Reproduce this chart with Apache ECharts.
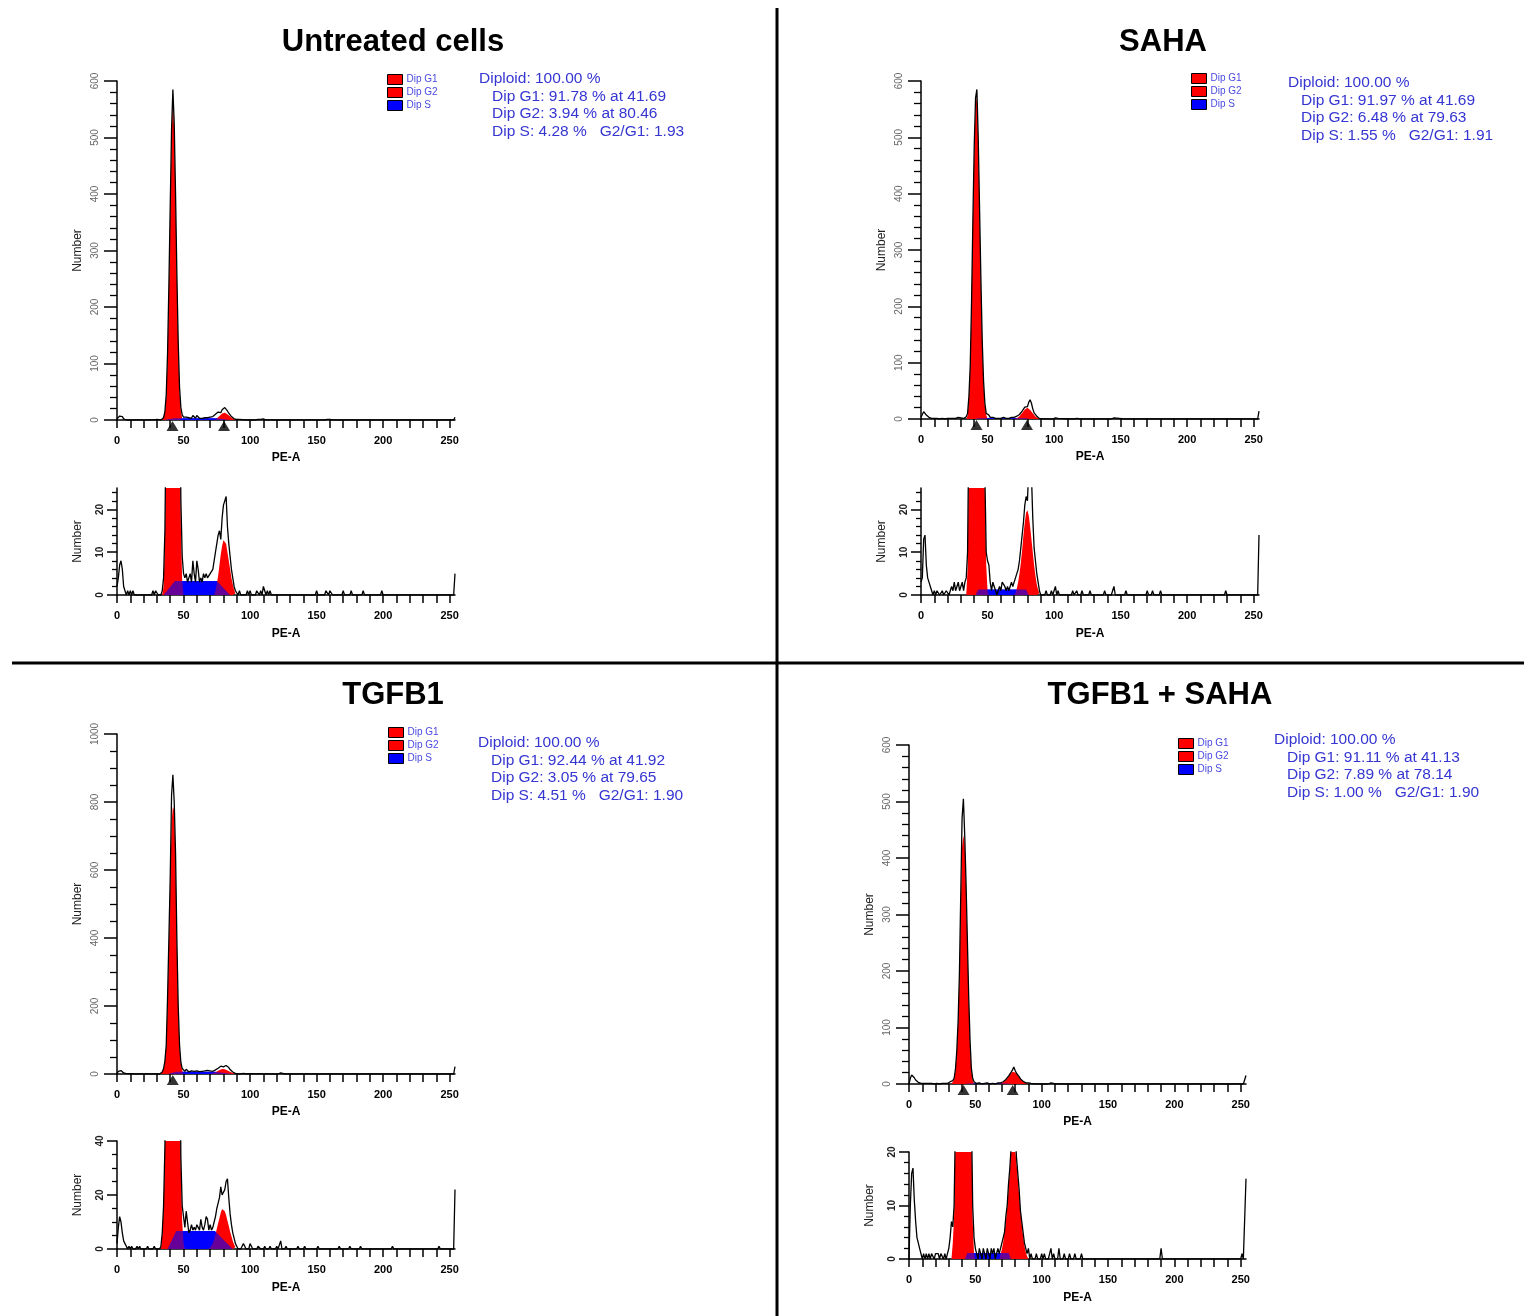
<!DOCTYPE html>
<html>
<head>
<meta charset="utf-8">
<script src="https://cdn.jsdelivr.net/npm/echarts@6/dist/echarts.min.js"></script>
<style>
html, body { margin: 0; padding: 0; background: #fff; }
#chart { width: 1524px; height: 1316px; }
</style>
</head>
<body>
<div id="chart"></div>
<script>
// ---- data: [channel, count] ----

// Untreated cells
const rawUntreated = [[0,2],[1,4],[2,7],[3,8],[4,6],[5,2],[6,1],[7,0],[8,1],[9,0],[10,1],[11,0],[12,1],[13,0],[26,0],[27,1],[28,0],[29,1],[30,1],[31,0],[33,0],[34,1],[35,4],[36,15],[37,45],[38,118],[39,240],[40,380],[41,515],[42,585],[43,525],[44,400],[45,258],[46,138],[47,58],[48,22],[49,9],[50,5],[51,4],[52,5],[53,3],[54,4],[55,5],[56,3],[57,8],[58,5],[59,3],[60,8],[61,6],[62,3],[63,4],[64,3],[65,5],[66,4],[67,5],[68,4],[69,4],[70,5],[71,5],[72,6],[73,8],[74,10],[75,12],[76,14],[77,15],[78,13],[79,18],[80,21],[81,22],[82,23],[83,16],[84,12],[85,9],[86,6],[87,4],[88,2],[89,1],[90,1],[91,0],[92,1],[93,0],[97,0],[98,1],[99,0],[100,1],[101,0],[104,0],[105,1],[106,1],[107,0],[108,1],[109,0],[110,2],[111,1],[112,0],[113,1],[114,0],[115,1],[116,0],[149,0],[150,1],[151,0],[156,0],[157,1],[158,1],[159,0],[160,1],[161,1],[162,0],[169,0],[170,1],[171,0],[175,0],[176,1],[177,0],[184,0],[185,1],[186,0],[198,0],[199,1],[200,0],[253,0],[254,5]];
const g1Untreated = [[34,0],[35,2],[36,12],[37,40],[38,110],[39,230],[40,370],[41,500],[42,568],[43,510],[44,390],[45,250],[46,130],[47,50],[48,16],[49,3],[50,0]];
const g2Untreated = [[73,0],[74,1],[75,2.5],[76,4.5],[77,7],[78,9.5],[79,11.5],[80,12.8],[81,13],[82,12],[83,10],[84,8],[85,6],[86,4],[87,2.5],[88,1.2],[89,0.4],[90,0]];
const sUntreated = [[35,0],[43.5,3.3],[75,3.3],[85,0]];
const peaksUntreated = [41.69, 80.46];
const statsUntreated = ['Diploid: 100.00 %', 'Dip G1: 91.78 % at 41.69', 'Dip G2: 3.94 % at 80.46', 'Dip S: 4.28 %   G2/G1: 1.93'];

// SAHA
const rawSaha = [[0,3],[1,4],[2,13],[3,14],[4,7],[5,4],[6,3],[7,2],[8,1],[9,0],[10,1],[11,0],[12,1],[13,1],[14,0],[15,0],[16,1],[17,0],[18,0],[19,1],[20,1],[21,0],[22,1],[23,2],[24,1],[25,3],[26,1],[27,2],[28,3],[29,1],[30,2],[31,3],[32,1],[33,3],[34,4],[35,10],[36,40],[37,95],[38,210],[39,355],[40,485],[41,570],[42,585],[43,500],[44,375],[45,250],[46,140],[47,68],[48,28],[49,10],[50,8],[51,7],[52,3],[53,1],[54,3],[55,2],[56,1],[57,0],[58,1],[59,2],[60,1],[61,3],[62,3],[63,2],[64,1],[65,2],[66,1],[67,2],[68,3],[69,2],[70,3],[71,4],[72,5],[73,6],[74,8],[75,11],[76,14],[77,17],[78,21],[79,23],[80,22],[81,30],[82,34],[83,28],[84,18],[85,11],[86,8],[87,5],[88,3],[89,1],[90,0],[93,0],[94,1],[95,0],[97,0],[98,1],[99,0],[100,1],[101,2],[102,0],[103,1],[104,0],[113,0],[114,1],[115,0],[116,0],[117,1],[118,0],[120,0],[121,1],[122,0],[126,0],[127,1],[128,0],[137,0],[138,1],[139,0],[143,0],[144,1],[145,2],[146,0],[153,0],[154,1],[155,0],[169,0],[170,1],[171,0],[173,0],[174,1],[175,0],[179,0],[180,1],[181,0],[228,0],[229,1],[230,0],[253,0],[254,14]];
const g1Saha = [[34,0],[35,6],[36,35],[37,90],[38,200],[39,345],[40,470],[41,555],[42,572],[43,490],[44,365],[45,240],[46,135],[47,62],[48,24],[49,7],[50,1],[51,0]];
const g2Saha = [[70,0],[71,0.5],[72,1.5],[73,3],[74,5],[75,7.5],[76,10.5],[77,14],[78,17],[79,19.3],[80,19.8],[81,18.5],[82,16],[83,13],[84,10],[85,7],[86,4.5],[87,2.5],[88,1.2],[89,0.4],[90,0]];
const sSaha = [[41,0],[43,1.3],[79,1.3],[81,0]];
const peaksSaha = [41.69, 79.63];
const statsSaha = ['Diploid: 100.00 %', 'Dip G1: 91.97 % at 41.69', 'Dip G2: 6.48 % at 79.63', 'Dip S: 1.55 %   G2/G1: 1.91'];

// TGFB1
const rawTgfb = [[0,2],[1,8],[2,12],[3,10],[4,6],[5,3],[6,2],[7,1],[8,0],[9,1],[10,0],[11,1],[12,0],[14,0],[15,1],[16,0],[17,1],[18,0],[22,0],[23,1],[24,0],[27,0],[28,1],[29,0],[32,0],[33,1],[34,6],[35,16],[36,38],[37,85],[38,225],[39,400],[40,580],[41,820],[42,880],[43,800],[44,650],[45,395],[46,200],[47,85],[48,34],[49,16],[50,12],[51,8],[52,14],[53,10],[54,6],[55,7],[56,9],[57,7],[58,8],[59,7],[60,9],[61,8],[62,7],[63,11],[64,8],[65,7],[66,9],[67,12],[68,11],[69,7],[70,9],[71,7],[72,8],[73,10],[74,12],[75,15],[76,17],[77,19],[78,23],[79,20],[80,21],[81,22],[82,25],[83,26],[84,19],[85,13],[86,9],[87,6],[88,4],[89,2],[90,1],[91,0],[93,0],[94,1],[95,2],[96,1],[97,0],[99,0],[100,2],[101,1],[102,0],[105,0],[106,1],[107,1],[108,0],[110,0],[111,1],[112,0],[114,0],[115,1],[116,0],[119,0],[120,1],[121,0],[122,0],[123,3],[124,0],[126,0],[127,1],[128,0],[135,0],[136,1],[137,0],[140,0],[141,1],[142,0],[150,0],[151,1],[152,0],[166,0],[167,1],[168,0],[174,0],[175,1],[176,0],[182,0],[183,1],[184,0],[206,0],[207,1],[208,0],[241,0],[242,1],[243,0],[253,0],[254,22]];
const g1Tgfb = [[33,0],[34,5],[35,15],[36,35],[37,80],[38,210],[39,380],[40,560],[41,740],[42,786],[43,775],[44,630],[45,380],[46,190],[47,80],[48,30],[49,10],[50,2],[51,0]];
const g2Tgfb = [[69,0],[70,0.5],[71,1.2],[72,2],[73,3.5],[74,5.5],[75,7.5],[76,9.5],[77,11.5],[78,13.5],[79,14.8],[80,15],[81,14],[82,12.5],[83,10.5],[84,8.5],[85,6.5],[86,4.7],[87,3],[88,1.7],[89,0.7],[90,0]];
const sTgfb = [[38,0],[44.5,6.7],[73.5,6.7],[87,0]];
const peaksTgfb = [41.92];
const statsTgfb = ['Diploid: 100.00 %', 'Dip G1: 92.44 % at 41.92', 'Dip G2: 3.05 % at 79.65', 'Dip S: 4.51 %   G2/G1: 1.90'];

// TGFB1 + SAHA
const rawCombo = [[0,0],[1,10],[2,16],[3,17],[4,11],[5,7],[6,4],[7,3],[8,2],[9,1],[10,0],[11,1],[12,0],[13,1],[14,0],[15,1],[16,0],[17,1],[18,1],[19,0],[20,1],[21,1],[22,1],[23,0],[24,1],[25,1],[26,0],[27,1],[28,0],[29,1],[30,2],[31,4],[32,7],[33,6],[34,10],[35,26],[36,58],[37,110],[38,196],[39,335],[40,470],[41,505],[42,440],[43,355],[44,255],[45,155],[46,78],[47,28],[48,10],[49,4],[50,2],[51,1],[52,0],[53,2],[54,1],[55,0],[56,2],[57,1],[58,0],[59,2],[60,1],[61,0],[62,2],[63,1],[64,2],[65,0],[66,1],[67,2],[68,1],[69,2],[70,2],[71,4],[72,5],[73,8],[74,10],[75,14],[76,17],[77,21],[78,25],[79,30],[80,24],[81,19],[82,16],[83,13],[84,9],[85,7],[86,5],[87,3],[88,2],[89,1],[90,2],[91,0],[92,1],[93,0],[95,0],[96,1],[97,0],[99,0],[100,1],[101,0],[102,1],[103,0],[105,0],[106,1],[107,2],[108,0],[109,1],[110,0],[112,0],[113,2],[114,0],[116,0],[117,1],[118,0],[120,0],[121,1],[122,0],[124,0],[125,1],[126,0],[129,0],[130,1],[131,0],[189,0],[190,2],[191,0],[250,0],[251,1],[252,0],[253,0],[254,15]];
const g1Combo = [[32,0],[33,3],[34,8],[35,22],[36,55],[37,105],[38,190],[39,315],[40,420],[41,440],[42,425],[43,350],[44,250],[45,150],[46,75],[47,25],[48,7],[49,1],[50,0]];
const g2Combo = [[68,0],[69,0.8],[70,1.8],[71,3.2],[72,5],[73,7],[74,9.5],[75,13],[76,16.5],[77,20],[78,21.5],[79,21.5],[80,20.5],[81,18],[82,15],[83,12],[84,9],[85,6.5],[86,4.2],[87,2.5],[88,1.3],[89,0.5],[90,0]];
const sCombo = [[42,0],[44,1.1],[75,1.1],[77,0]];
const peaksCombo = [41.13, 78.14];
const statsCombo = ['Diploid: 100.00 %', 'Dip G1: 91.11 % at 41.13', 'Dip G2: 7.89 % at 78.14', 'Dip S: 1.00 %   G2/G1: 1.90'];

// tick labels
const xTickValues = [0,10,20,30,40,50,60,70,80,90,100,110,120,130,140,150,160,170,180,190,200,210,220,230,240,250];
const xLabelValues = [0,50,100,150,200,250];
const yLabelsMain600 = [0,100,200,300,400,500,600];
const yLabelsMain1000 = [0,200,400,600,800,1000];
const yLabelsZoom25 = [0,10,20];
const yLabelsZoom40 = [0,20,40];
const yLabelsZoom20 = [0,10,20];
const legendNames = ['Dip G1', 'Dip G2', 'Dip S'];

const FONT = '"Liberation Sans", Arial, sans-serif';
const RED = '#ff0000';
const BLUE = '#0000ff';
const STAT_COLOR = '#3535d2';

// where each panel sits
const panels = [
    {title: 'Untreated cells', titleX: 393, titleY: 42, raw: rawUntreated, g1: g1Untreated, g2: g2Untreated, s: sUntreated,
     peaks: peaksUntreated, stats: statsUntreated, statX: 479, statY: 79, legX: 387, legY: 74,
     main: {left: 117, top: 81, width: 338, height: 339, max: 600, interval: 100, minor: 5, labels: yLabelsMain600},
     zoom: {left: 117, top: 488, width: 338, height: 107, max: 25, interval: 10, minor: 5, labels: yLabelsZoom25}},
    {title: 'SAHA', titleX: 1163, titleY: 42, raw: rawSaha, g1: g1Saha, g2: g2Saha, s: sSaha,
     peaks: peaksSaha, stats: statsSaha, statX: 1288, statY: 83, legX: 1191, legY: 73,
     main: {left: 921, top: 81, width: 338, height: 338, max: 600, interval: 100, minor: 5, labels: yLabelsMain600},
     zoom: {left: 921, top: 488, width: 338, height: 107, max: 25, interval: 10, minor: 5, labels: yLabelsZoom25}},
    {title: 'TGFB1', titleX: 393, titleY: 695, raw: rawTgfb, g1: g1Tgfb, g2: g2Tgfb, s: sTgfb,
     peaks: peaksTgfb, stats: statsTgfb, statX: 478, statY: 743, legX: 388, legY: 727,
     main: {left: 117, top: 734, width: 338, height: 340, max: 1000, interval: 200, minor: 4, labels: yLabelsMain1000},
     zoom: {left: 117, top: 1141, width: 338, height: 108, max: 40, interval: 20, minor: 4, labels: yLabelsZoom40}},
    {title: 'TGFB1 + SAHA', titleX: 1160, titleY: 695, raw: rawCombo, g1: g1Combo, g2: g2Combo, s: sCombo,
     peaks: peaksCombo, stats: statsCombo, statX: 1274, statY: 740, legX: 1178, legY: 738,
     main: {left: 909, top: 745, width: 337, height: 339, max: 600, interval: 100, minor: 5, labels: yLabelsMain600},
     zoom: {left: 909, top: 1152, width: 337, height: 107, max: 20, interval: 10, minor: 5, labels: yLabelsZoom20}}
];

let grid = [], xAxis = [], yAxis = [], series = [], legend = [], graphic = [];

function addPlot(p, box, isMain) {
    const gi = grid.length;
    grid.push({left: box.left, top: box.top, width: box.width, height: box.height});
    xAxis.push({
        type: 'value', gridIndex: gi, min: 0, max: 254,
        name: 'PE-A', nameLocation: 'middle', nameGap: isMain ? 32 : 33,
        nameTextStyle: {fontFamily: FONT, fontSize: 12, fontWeight: 'bold', color: '#000'},
        axisLine: {show: true, onZero: false, lineStyle: {color: '#000', width: 1.5}},
        axisTick: {show: true, customValues: xTickValues, length: 8, lineStyle: {color: '#000', width: 1.5}},
        axisLabel: {customValues: xLabelValues, margin: 15, fontFamily: FONT, fontSize: 11, fontWeight: 'bold', color: '#000'},
        splitLine: {show: false}
    });
    yAxis.push({
        type: 'value', gridIndex: gi, min: 0, max: box.max, interval: box.interval,
        name: 'Number', nameLocation: 'middle', nameGap: 33,
        nameTextStyle: {fontFamily: FONT, fontSize: 12, color: '#222'},
        axisLine: {show: true, lineStyle: {color: '#000', width: 1.5}},
        axisTick: {show: true, customValues: box.labels, length: isMain ? 13 : 10, lineStyle: {color: '#000', width: 1.5}},
        minorTick: {show: true, splitNumber: box.minor, length: isMain ? 7 : 5, lineStyle: {color: '#000', width: 1.3}},
        axisLabel: {customValues: box.labels, rotate: 90, margin: isMain ? 17 : 12, fontFamily: FONT, fontSize: 10,
                    color: isMain ? '#666' : '#222', fontWeight: isMain ? 'normal' : 'bold',
                    formatter: v => String(v)},
        splitLine: {show: false}
    });
    const common = {type: 'line', xAxisIndex: gi, yAxisIndex: gi, symbol: 'none', showSymbol: false, silent: true, animation: false};
    // S phase under, G1/G2 fits, S phase again semi transparent (purple overlap), raw histogram on top
    series.push(Object.assign({}, common, {name: 'Dip S', data: p.s, lineStyle: {width: 0}, itemStyle: {color: BLUE}, areaStyle: {color: BLUE, opacity: 1}}));
    series.push(Object.assign({}, common, {name: 'Dip G1', data: p.g1, lineStyle: {width: 0}, itemStyle: {color: RED}, areaStyle: {color: RED, opacity: 1}}));
    series.push(Object.assign({}, common, {name: 'Dip G2', data: p.g2, lineStyle: {width: 0}, itemStyle: {color: RED}, areaStyle: {color: RED, opacity: 1}}));
    series.push(Object.assign({}, common, {name: 'S overlap', data: p.s, lineStyle: {width: 0}, itemStyle: {color: BLUE}, areaStyle: {color: BLUE, opacity: 0.6}}));
    series.push(Object.assign({}, common, {name: 'Histogram', data: p.raw, lineStyle: {color: '#000', width: 1.3}, itemStyle: {color: '#000'}}));
    if (isMain) {
        series.push({
            type: 'scatter', name: 'Peaks', xAxisIndex: gi, yAxisIndex: gi, silent: true, animation: false,
            data: p.peaks.map(v => [v, 0]), symbol: 'triangle', symbolSize: [12, 10], symbolOffset: [0, 6],
            itemStyle: {color: '#000'}, z: 5
        });
    }
}

panels.forEach(p => {
    addPlot(p, p.main, true);
    addPlot(p, p.zoom, false);
    legend.push({
        left: p.legX, top: p.legY, orient: 'vertical', selectedMode: false, padding: 0,
        icon: 'rect', itemWidth: 15, itemHeight: 10, itemGap: 2,
        itemStyle: {borderColor: '#000', borderWidth: 1},
        textStyle: {fontFamily: FONT, fontSize: 10, lineHeight: 10, color: '#4a4ae0', padding: [0, 0, 0, -1]},
        data: legendNames.map(n => ({name: n, itemStyle: {color: n === 'Dip S' ? BLUE : RED, borderColor: '#000', borderWidth: 1}}))
    });
    graphic.push({type: 'text', x: p.titleX, y: p.titleY, style: {text: p.title, fontFamily: FONT, fontSize: 31, fontWeight: 'bold', fill: '#000', align: 'center', verticalAlign: 'middle'}});
    p.stats.forEach((line, i) => {
        graphic.push({type: 'text', x: i === 0 ? p.statX : p.statX + 13, y: p.statY + i * 17.6,
            style: {text: line, fontFamily: FONT, fontSize: 15.5, fill: STAT_COLOR, align: 'left', verticalAlign: 'middle'}});
    });
});

// divider lines between panels
graphic.push({type: 'line', shape: {x1: 777, y1: 8, x2: 777, y2: 1316}, style: {stroke: '#000', lineWidth: 3}});
graphic.push({type: 'line', shape: {x1: 12, y1: 663, x2: 1524, y2: 663}, style: {stroke: '#000', lineWidth: 3}});

const chart = echarts.init(document.getElementById('chart'), null, {renderer: 'canvas'});
chart.setOption({
    backgroundColor: '#fff',
    animation: false,
    grid: grid,
    xAxis: xAxis,
    yAxis: yAxis,
    legend: legend,
    series: series,
    graphic: graphic
});
window.addEventListener('resize', () => chart.resize());
</script>
</body>
</html>
